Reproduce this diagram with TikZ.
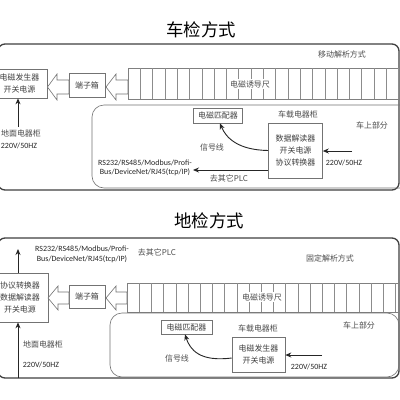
\documentclass[tikz,border=0pt]{standalone}
\usepackage{fontspec}
\setmainfont{Carlito}
\newfontfamily\cjk{Noto Sans CJK SC}
\usetikzlibrary{arrows.meta}
\begin{document}
\begin{tikzpicture}[x=1bp,y=-1bp,
  sect/.style={draw=black!75, line width=1.3bp, rounded corners=7bp},
  panel/.style={draw=black!55, line width=0.6bp, rounded corners=12bp},
  box/.style={draw=black!55, line width=0.6bp, fill=white, inner sep=0, align=center,
    font=\cjk\fontsize{8}{12}\selectfont, text=black!75},
  lbl/.style={inner sep=0, font=\cjk\fontsize{8}{10}\selectfont, text=black!70},
  lat/.style={inner sep=0, font=\fontsize{8}{9.5}\selectfont, text=black!85, align=center},
  ttl/.style={inner sep=0, font=\cjk\fontsize{17.5}{18}\selectfont, text=black},
  hollow/.style={draw=black!55, line width=0.6bp, fill=white},
  arr/.style={draw=black!85, line width=0.9bp, -{Stealth[length=6bp,width=5bp]}},
  railbox/.style={draw=black!50, line width=0.6bp, inner sep=0},
  railline/.style={draw=black!45, line width=0.5bp},
  raillbl/.style={fill=white, inner sep=1bp, font=\cjk\fontsize{8}{10}\selectfont, text=black!70}
]
\useasboundingbox (0,0) rectangle (400,400);
\clip (0,0) rectangle (400,400);
\fill[white] (0,0) rectangle (400,400);

% ===== top section =====
\draw[sect] (-2,44) rectangle (399,190);
\node[ttl] (t1) at (201,30) {车检方式};
\node[lbl] (m1) at (342,54) {移动解析方式};
\node[box, minimum width=55bp, minimum height=29bp] (gen1) at (19.5,83.5) {电磁发生器\\开关电源};
\node[box, minimum width=36bp, minimum height=24bp] (tb1) at (87,85) {端子箱};
\node[railbox, minimum width=277bp, minimum height=31bp] (rail1) at (266.5,83.5) {};
\foreach \i in {1,...,22} {\draw[railline] (128+\i*12.3,68) -- (128+\i*12.3,99);}
\node[raillbl] (rl1) at (250,84) {电磁诱导尺};
\draw[hollow] (69,80) -- (57,80) -- (57,74) -- (47.5,87) -- (57,100) -- (57,94) -- (69,94) -- cycle;
\draw[hollow] (128,80) -- (116,80) -- (116,74) -- (106,87) -- (116,100) -- (116,94) -- (128,94) -- cycle;
\coordinate (g1) at (18,127);
\draw[arr] (g1) -- (g1 |- gen1.south);
\node[lbl] (gc1) at (21,133) {地面电器柜};
\node[lat] (v1) at (19,146) {220V/50HZ};

\draw[panel] (92,105) rectangle (412,188);
\node[box, minimum width=49bp, minimum height=15bp] (em1) at (218,115.5) {电磁匹配器};
\node[lbl] (cab1) at (298,114) {车载电器柜};
\node[lbl] (car1) at (372,125) {车上部分};
\node[box, minimum width=54bp, minimum height=55bp] (dec1) at (295.5,150.5) {数据解读器\\开关电源\\协议转换器};
\draw[arr] (dec1.west) .. controls (238,150) and (226,138) .. ([xshift=2bp]em1.south);
\node[lbl] (sig1) at (212,147) {信号线};
\coordinate (p1) at (352,151);
\draw[arr] (p1) -- (p1 -| dec1.east);
\node[lat] (v2) at (344,163) {220V/50HZ};
\node[lat] (rs1) at (145,168) {RS232/RS485/Modbus/Profi-\\Bus/DeviceNet/RJ45(tcp/IP)};
\coordinate (y170) at (0,170);
\draw[arr] (dec1.west |- y170) -- ([xshift=1bp]rs1.east |- y170);
\node[lbl] (plc1) at (229,178) {去其它PLC};

% ===== bottom section =====
\draw[sect] (-2,238) rectangle (399,378);
\node[ttl] (t2) at (209,221) {地检方式};
\node[box, minimum width=56bp, minimum height=49bp] (dec2) at (20,297.5) {协议转换器\\数据解读器\\开关电源};
\coordinate (u2) at (18,249);
\draw[arr] (dec2.north -| u2) -- (u2);
\node[lat] (rs2) at (82,254.5) {RS232/RS485/Modbus/Profi-\\Bus/DeviceNet/RJ45(tcp/IP)};
\node[lbl] (plc2) at (157,252) {去其它PLC};
\node[lbl] (m2) at (330,258) {固定解析方式};
\node[box, minimum width=36bp, minimum height=23bp] (tb2) at (87,296.5) {端子箱};
\node[railbox, minimum width=278bp, minimum height=29bp] (rail2) at (266,297.5) {};
\foreach \i in {1,...,22} {\draw[railline] (127+\i*12.2,283) -- (127+\i*12.2,312);}
\node[raillbl] (rl2) at (262,297) {电磁诱导尺};
\draw[hollow] (69,292) -- (58,292) -- (58,286) -- (48,298) -- (58,310) -- (58,304) -- (69,304) -- cycle;
\draw[hollow] (127,292) -- (116,292) -- (116,286) -- (106,298) -- (116,310) -- (116,304) -- (127,304) -- cycle;
\draw[panel] (110,313) rectangle (399,377);
\coordinate (g2) at (18,378);
\draw[arr] (g2) -- (g2 |- dec2.south);
\node[lbl] (gc2) at (43,344) {地面电器柜};
\node[lat] (v3) at (41,365) {220V/50HZ};
\node[box, minimum width=51bp, minimum height=14bp] (em2) at (186.5,327) {电磁匹配器};
\node[lbl] (cab2) at (258,328) {车载电器柜};
\node[lbl] (car2) at (359,325) {车上部分};
\node[box, minimum width=53bp, minimum height=35bp] (gen2) at (258.5,354.5) {电磁发生器\\开关电源};
\draw[arr] ([yshift=-3.5bp]gen2.west) .. controls (200,362) and (190,350) .. ([xshift=-1.5bp]em2.south);
\node[lbl] (sig2) at (177,358) {信号线};
\coordinate (p2) at (322,355);
\draw[arr] (p2) -- (p2 -| gen2.east);
\node[lat] (v4) at (309,367) {220V/50HZ};
\end{tikzpicture}
\end{document}
